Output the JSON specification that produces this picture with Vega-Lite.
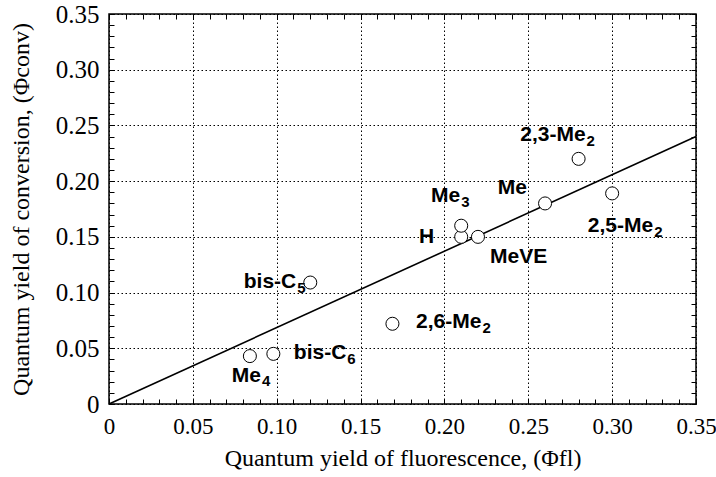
{
  "$schema": "https://vega.github.io/schema/vega-lite/v6.json",
  "width": 587,
  "height": 390,
  "autosize": {"type": "none"},
  "padding": {"left": 109, "top": 14, "right": 20, "bottom": 73},
  "background": "#ffffff",
  "config": {
    "view": {"stroke": "#000000", "strokeWidth": 1.5},
    "text": {"font": "Liberation Sans", "fontWeight": "bold", "fontSize": 21, "baseline": "alphabetic", "color": "#000000"}
  },
  "datasets": {
    "pts": [
      {"name": "bis-C5", "main": "bis-C", "sub": "5", "x": 0.12, "y": 0.109},
      {"name": "Me4", "main": "Me", "sub": "4", "x": 0.084, "y": 0.043},
      {"name": "bis-C6", "main": "bis-C", "sub": "6", "x": 0.098, "y": 0.045},
      {"name": "2,6-Me2", "main": "2,6-Me", "sub": "2", "x": 0.169, "y": 0.072},
      {"name": "H", "main": "H", "sub": "", "x": 0.21, "y": 0.15},
      {"name": "Me3", "main": "Me", "sub": "3", "x": 0.21, "y": 0.16},
      {"name": "MeVE", "main": "MeVE", "sub": "", "x": 0.22, "y": 0.15},
      {"name": "Me", "main": "Me", "sub": "", "x": 0.26, "y": 0.18},
      {"name": "2,3-Me2", "main": "2,3-Me", "sub": "2", "x": 0.28, "y": 0.22},
      {"name": "2,5-Me2", "main": "2,5-Me", "sub": "2", "x": 0.30, "y": 0.189}
    ],
    "fit": [
      {"x": 0, "y": 0},
      {"x": 0.35, "y": 0.24}
    ]
  },
  "resolve": {"axis": {"x": "independent", "y": "independent"}},
  "layer": [
    {
      "data": {"name": "fit"},
      "mark": {"type": "line", "color": "#000000", "strokeWidth": 1.6},
      "encoding": {
        "x": {
          "field": "x", "type": "quantitative",
          "scale": {"domain": [0, 0.35], "nice": false, "zero": false},
          "axis": {
            "orient": "bottom",
            "offset": -5,
            "values": [0,0.01,0.02,0.03,0.04,0.05,0.06,0.07,0.08,0.09,0.1,0.11,0.12,0.13,0.14,0.15,0.16,0.17,0.18,0.19,0.2,0.21,0.22,0.23,0.24,0.25,0.26,0.27,0.28,0.29,0.3,0.31,0.32,0.33,0.34,0.35],
            "labelExpr": "round(datum.value*100) % 5 === 0 ? (datum.value === 0 ? '0' : format(datum.value, '.2f')) : ''",
            "labelOverlap": false,
            "labelFlush": false,
            "labelFont": "Liberation Serif",
            "labelFontSize": 23,
            "labelColor": "#000000",
            "labelPadding": 11,
            "tickSize": 5,
            "tickColor": "#000000",
            "tickWidth": 1,
            "domain": false,
            "grid": true,
            "gridColor": "#000000",
            "gridWidth": 1,
            "gridDash": [1.5, 2.5],
            "gridOpacity": {"condition": {"test": "round(datum.value*100) % 5 === 0", "value": 1}, "value": 0},
            "title": "Quantum yield of fluorescence, (Φfl)",
            "titleFont": "Liberation Serif",
            "titleFontSize": 24,
            "titleFontWeight": "normal",
            "titleColor": "#000000",
            "titlePadding": 8
          }
        },
        "y": {
          "field": "y", "type": "quantitative",
          "scale": {"domain": [0, 0.35], "nice": false, "zero": false},
          "axis": {
            "orient": "left",
            "offset": -5,
            "values": [0,0.01,0.02,0.03,0.04,0.05,0.06,0.07,0.08,0.09,0.1,0.11,0.12,0.13,0.14,0.15,0.16,0.17,0.18,0.19,0.2,0.21,0.22,0.23,0.24,0.25,0.26,0.27,0.28,0.29,0.3,0.31,0.32,0.33,0.34,0.35],
            "labelExpr": "round(datum.value*100) % 5 === 0 ? (datum.value === 0 ? '0' : format(datum.value, '.2f')) : ''",
            "labelOverlap": false,
            "labelFlush": false,
            "labelFont": "Liberation Serif",
            "labelFontSize": 25,
            "labelColor": "#000000",
            "labelPadding": 10,
            "tickSize": 5,
            "tickColor": "#000000",
            "tickWidth": 1,
            "domain": false,
            "grid": true,
            "gridColor": "#000000",
            "gridWidth": 1,
            "gridDash": [1.5, 2.5],
            "gridOpacity": {"condition": {"test": "round(datum.value*100) % 5 === 0", "value": 1}, "value": 0},
            "title": "Quantum yield of conversion, (Φconv)",
            "titleFont": "Liberation Serif",
            "titleFontSize": 24,
            "titleFontWeight": "normal",
            "titleColor": "#000000",
            "titlePadding": 22
          }
        }
      }
    },
    {
      "data": {"name": "pts"},
      "mark": {"type": "point", "shape": "circle", "size": 170, "filled": false, "fill": "#ffffff", "fillOpacity": 1, "stroke": "#000000", "strokeWidth": 1, "opacity": 1},
      "encoding": {
        "x": {
          "field": "x", "type": "quantitative",
          "axis": {
            "orient": "top",
            "offset": -5,
            "values": [0,0.01,0.02,0.03,0.04,0.05,0.06,0.07,0.08,0.09,0.1,0.11,0.12,0.13,0.14,0.15,0.16,0.17,0.18,0.19,0.2,0.21,0.22,0.23,0.24,0.25,0.26,0.27,0.28,0.29,0.3,0.31,0.32,0.33,0.34,0.35],
            "labels": false, "domain": false, "grid": false, "title": null,
            "tickSize": 5, "tickColor": "#000000", "tickWidth": 1
          }
        },
        "y": {
          "field": "y", "type": "quantitative",
          "axis": {
            "orient": "right",
            "offset": -5,
            "values": [0,0.01,0.02,0.03,0.04,0.05,0.06,0.07,0.08,0.09,0.1,0.11,0.12,0.13,0.14,0.15,0.16,0.17,0.18,0.19,0.2,0.21,0.22,0.23,0.24,0.25,0.26,0.27,0.28,0.29,0.3,0.31,0.32,0.33,0.34,0.35],
            "labels": false, "domain": false, "grid": false, "title": null,
            "tickSize": 5, "tickColor": "#000000", "tickWidth": 1
          }
        }
      }
    },
    {"data": {"name": "pts"}, "transform": [{"filter": "datum.name === 'bis-C5'"}], "mark": {"type": "text", "align": "right", "dx": -14, "dy": 5}, "encoding": {"x": {"field": "x", "type": "quantitative", "axis": null}, "y": {"field": "y", "type": "quantitative", "axis": null}, "text": {"field": "main"}}},
    {"data": {"name": "pts"}, "transform": [{"filter": "datum.name === 'bis-C5'"}], "mark": {"type": "text", "align": "left", "dx": -13, "dy": 10, "fontSize": 15}, "encoding": {"x": {"field": "x", "type": "quantitative", "axis": null}, "y": {"field": "y", "type": "quantitative", "axis": null}, "text": {"field": "sub"}}},
    {"data": {"name": "pts"}, "transform": [{"filter": "datum.name === 'Me4'"}], "mark": {"type": "text", "align": "right", "dx": 11, "dy": 26}, "encoding": {"x": {"field": "x", "type": "quantitative", "axis": null}, "y": {"field": "y", "type": "quantitative", "axis": null}, "text": {"field": "main"}}},
    {"data": {"name": "pts"}, "transform": [{"filter": "datum.name === 'Me4'"}], "mark": {"type": "text", "align": "left", "dx": 12, "dy": 30, "fontSize": 15}, "encoding": {"x": {"field": "x", "type": "quantitative", "axis": null}, "y": {"field": "y", "type": "quantitative", "axis": null}, "text": {"field": "sub"}}},
    {"data": {"name": "pts"}, "transform": [{"filter": "datum.name === 'bis-C6'"}], "mark": {"type": "text", "align": "right", "dx": 73, "dy": 5}, "encoding": {"x": {"field": "x", "type": "quantitative", "axis": null}, "y": {"field": "y", "type": "quantitative", "axis": null}, "text": {"field": "main"}}},
    {"data": {"name": "pts"}, "transform": [{"filter": "datum.name === 'bis-C6'"}], "mark": {"type": "text", "align": "left", "dx": 74, "dy": 10, "fontSize": 15}, "encoding": {"x": {"field": "x", "type": "quantitative", "axis": null}, "y": {"field": "y", "type": "quantitative", "axis": null}, "text": {"field": "sub"}}},
    {"data": {"name": "pts"}, "transform": [{"filter": "datum.name === '2,6-Me2'"}], "mark": {"type": "text", "align": "right", "dx": 89, "dy": 4}, "encoding": {"x": {"field": "x", "type": "quantitative", "axis": null}, "y": {"field": "y", "type": "quantitative", "axis": null}, "text": {"field": "main"}}},
    {"data": {"name": "pts"}, "transform": [{"filter": "datum.name === '2,6-Me2'"}], "mark": {"type": "text", "align": "left", "dx": 90, "dy": 9, "fontSize": 15}, "encoding": {"x": {"field": "x", "type": "quantitative", "axis": null}, "y": {"field": "y", "type": "quantitative", "axis": null}, "text": {"field": "sub"}}},
    {"data": {"name": "pts"}, "transform": [{"filter": "datum.name === 'H'"}], "mark": {"type": "text", "align": "right", "dx": -27, "dy": 6}, "encoding": {"x": {"field": "x", "type": "quantitative", "axis": null}, "y": {"field": "y", "type": "quantitative", "axis": null}, "text": {"field": "main"}}},
    {"data": {"name": "pts"}, "transform": [{"filter": "datum.name === 'Me3'"}], "mark": {"type": "text", "align": "right", "dx": -1, "dy": -24}, "encoding": {"x": {"field": "x", "type": "quantitative", "axis": null}, "y": {"field": "y", "type": "quantitative", "axis": null}, "text": {"field": "main"}}},
    {"data": {"name": "pts"}, "transform": [{"filter": "datum.name === 'Me3'"}], "mark": {"type": "text", "align": "left", "dx": 0, "dy": -19, "fontSize": 15}, "encoding": {"x": {"field": "x", "type": "quantitative", "axis": null}, "y": {"field": "y", "type": "quantitative", "axis": null}, "text": {"field": "sub"}}},
    {"data": {"name": "pts"}, "transform": [{"filter": "datum.name === 'MeVE'"}], "mark": {"type": "text", "align": "left", "dx": 12, "dy": 26}, "encoding": {"x": {"field": "x", "type": "quantitative", "axis": null}, "y": {"field": "y", "type": "quantitative", "axis": null}, "text": {"field": "main"}}},
    {"data": {"name": "pts"}, "transform": [{"filter": "datum.name === 'Me'"}], "mark": {"type": "text", "align": "right", "dx": -18, "dy": -9}, "encoding": {"x": {"field": "x", "type": "quantitative", "axis": null}, "y": {"field": "y", "type": "quantitative", "axis": null}, "text": {"field": "main"}}},
    {"data": {"name": "pts"}, "transform": [{"filter": "datum.name === '2,3-Me2'"}], "mark": {"type": "text", "align": "right", "dx": 7, "dy": -18}, "encoding": {"x": {"field": "x", "type": "quantitative", "axis": null}, "y": {"field": "y", "type": "quantitative", "axis": null}, "text": {"field": "main"}}},
    {"data": {"name": "pts"}, "transform": [{"filter": "datum.name === '2,3-Me2'"}], "mark": {"type": "text", "align": "left", "dx": 8, "dy": -13, "fontSize": 15}, "encoding": {"x": {"field": "x", "type": "quantitative", "axis": null}, "y": {"field": "y", "type": "quantitative", "axis": null}, "text": {"field": "sub"}}},
    {"data": {"name": "pts"}, "transform": [{"filter": "datum.name === '2,5-Me2'"}], "mark": {"type": "text", "align": "right", "dx": 41, "dy": 39}, "encoding": {"x": {"field": "x", "type": "quantitative", "axis": null}, "y": {"field": "y", "type": "quantitative", "axis": null}, "text": {"field": "main"}}},
    {"data": {"name": "pts"}, "transform": [{"filter": "datum.name === '2,5-Me2'"}], "mark": {"type": "text", "align": "left", "dx": 42, "dy": 44, "fontSize": 15}, "encoding": {"x": {"field": "x", "type": "quantitative", "axis": null}, "y": {"field": "y", "type": "quantitative", "axis": null}, "text": {"field": "sub"}}}
  ]
}
